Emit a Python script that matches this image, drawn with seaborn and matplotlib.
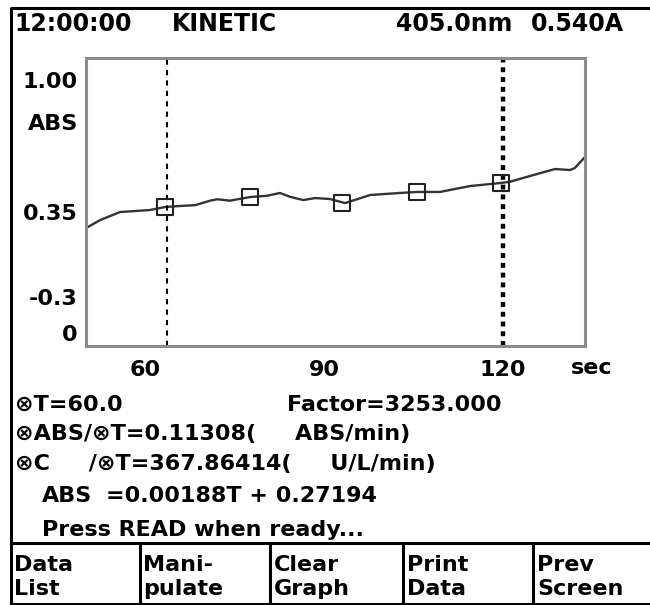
import matplotlib
matplotlib.use("Agg")
import matplotlib.pyplot as plt
import seaborn as sns
import pandas as pd

sns.set_theme(style="white")
plt.rcParams['font.family'] = ['DejaVu Sans']
plt.rcParams['font.weight'] = 'bold'
plt.rcParams['text.color'] = 'black'
plt.rcParams['xtick.color'] = 'black'
plt.rcParams['ytick.color'] = 'black'

# absorbance trace (time in sec, ABS)
t_sec = [50.1, 52.5, 55.8, 60.8, 63.4, 65.9, 68.4, 70.9, 72.1, 74.2, 77.6, 80.4,
         82.6, 84.3, 86.5, 88.5, 91.0, 93.5, 97.7, 102.7, 105.6, 109.4, 114.4,
         119.5, 121.1, 126.2, 128.7, 131.2, 132.0, 133.7]
abs_val = [0.271, 0.311, 0.350, 0.360, 0.375, 0.380, 0.384, 0.406, 0.413, 0.406,
           0.424, 0.430, 0.444, 0.425, 0.409, 0.419, 0.414, 0.394, 0.434, 0.444,
           0.449, 0.449, 0.478, 0.493, 0.499, 0.542, 0.562, 0.557, 0.567, 0.621]

# sampled points (square markers)
pt_sec = [63.35, 77.6, 93.0, 105.6, 119.6]
pt_abs = [0.375, 0.424, 0.394, 0.449, 0.493]

# cursors
cursor_start = 63.7
cursor_end = 120.0

x_ticks = [60, 90, 120]
y_tick_pos = [1.00, 0.793, 0.35, -0.069, -0.246]
y_tick_lab = ['1.00', 'ABS', '0.35', '-0.3', '0']

header = [('12:00:00', 14), ('KINETIC', 172), ('405.0nm', 396), ('0.540A', 531)]
info_lines = [
    ('\u2297T=60.0', 15, 405),
    ('Factor=3253.000', 287, 405),
    ('\u2297ABS/\u2297T=0.11308(     ABS/min)', 15, 434),
    ('\u2297C     /\u2297T=367.86414(     U/L/min)', 15, 464),
    ('ABS', 42, 496),
    ('=0.00188T + 0.27194', 106, 496),
    ('Press READ when ready...', 42, 530),
]
buttons = [('Data\nList', 14), ('Mani-\npulate', 143), ('Clear\nGraph', 274),
           ('Print\nData', 407), ('Prev\nScreen', 537)]
dividers = [140, 270, 403, 533]

W, H = 650, 605
fig = plt.figure(figsize=(W / 100, H / 100), dpi=100)

# screen overlay in pixel units
bg = fig.add_axes([0, 0, 1, 1])
bg.set_xlim(0, W)
bg.set_ylim(H, 0)
bg.axis('off')

lw_frame = 2.2
bg.plot([11, 11], [8, 604], color='black', lw=lw_frame, solid_capstyle='butt')
bg.plot([11, W], [8, 8], color='black', lw=lw_frame)
bg.plot([11, W], [543, 543], color='black', lw=lw_frame)
bg.plot([11, W], [603.5, 603.5], color='black', lw=lw_frame)
for d in dividers:
    bg.plot([d, d], [543, 604], color='black', lw=lw_frame)

fs = 16
for txt, x in header:
    bg.text(x, 24, txt, fontsize=17, fontweight='bold', va='center', ha='left')
for txt, x, y in info_lines:
    bg.text(x, y, txt, fontsize=fs, fontweight='bold', va='center', ha='left')
for txt, x in buttons:
    bg.text(x, 577, txt, fontsize=fs, fontweight='bold', va='center', ha='left',
            linespacing=1.2)

# graph area
ax = fig.add_axes([86 / W, (H - 346) / H, (585 - 86) / W, (346 - 58) / H])
df = pd.DataFrame({'t': t_sec, 'abs': abs_val})
pts = pd.DataFrame({'t': pt_sec, 'abs': pt_abs})

sns.lineplot(data=df, x='t', y='abs', ax=ax, color='#333333', lw=1.7)
ax.axvline(cursor_start, color='black', lw=1.5, dashes=(2.5, 2.5))
ax.axvline(cursor_end, color='black', lw=3.2, dashes=(1.1, 1.1))
sns.scatterplot(data=pts, x='t', y='abs', ax=ax, marker='s', s=130,
                facecolor='none', edgecolor='#222222', linewidth=1.5, zorder=5)

ax.set_xlim(50.1, 133.7)
ax.set_ylim(-0.310, 1.109)
ax.set_xticks(x_ticks)
ax.set_xticklabels([str(v) for v in x_ticks])
ax.set_yticks(y_tick_pos)
ax.set_yticklabels(y_tick_lab)
ax.tick_params(axis='x', length=0, labelsize=fs, pad=10)
ax.tick_params(axis='y', length=0, labelsize=fs, pad=6)
for lab in ax.get_xticklabels() + ax.get_yticklabels():
    lab.set_fontweight('bold')
ax.set_xlabel('')
ax.set_ylabel('')
for s in ax.spines.values():
    s.set_color('#8c8c8c')
    s.set_linewidth(2.2)
ax.text(0.972, -0.075, 'sec', transform=ax.transAxes, fontsize=fs,
        fontweight='bold', ha='left', va='center')

fig.savefig('out.png', dpi=100)
